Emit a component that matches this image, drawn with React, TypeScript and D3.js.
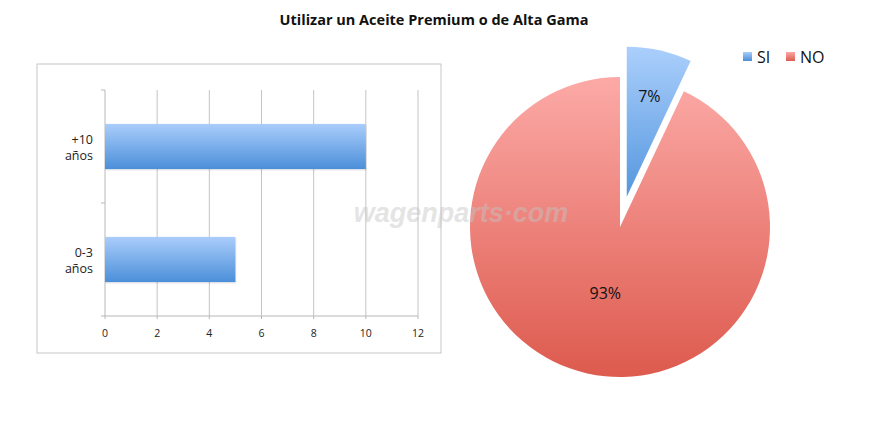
import * as d3 from "d3";

const title = "Utilizar un Aceite Premium o de Alta Gama";

// bar chart
const ageGroups = ["+10 años", "0-3 años"];
const groupValues = [10, 5];
const xTicks = [0, 2, 4, 6, 8, 10, 12];

// pie chart
const answers = ["SI", "NO"];
const shares = [7, 93];

const W = 872;
const H = 421;

export default function App() {
  const x = d3.scaleLinear().domain([0, 12]).range([105, 418]);
  const y = d3.scaleBand().domain(ageGroups).range([90, 316]).paddingInner(0.6).paddingOuter(0.3);
  const bounds = [90, 203, 316];

  const cx = 620;
  const cy = 227;
  const r = 150;
  const pie = d3.pie<number>().sort(null).value((d) => d);
  const arcs = pie(shares);
  const arc = d3.arc<d3.PieArcDatum<number>>().innerRadius(0).outerRadius(r);
  const labelR = [0.69, 0.45];

  const pieFill = ["url(#gSi)", "url(#gNo)"];
  const legendFill = ["url(#gSiL)", "url(#gNoL)"];

  return (
    <svg width={W} height={H} style={{ position: "absolute", left: 0, top: 0 }} fontFamily="'Open Sans', 'Liberation Sans', sans-serif">
      <defs>
        <linearGradient id="gBar" x1="0" y1="0" x2="0" y2="1">
          <stop offset="0" stopColor="#aacdfb" />
          <stop offset="1" stopColor="#4b8fd9" />
        </linearGradient>
        <linearGradient id="gSi" gradientUnits="userSpaceOnUse" x1="0" y1={-r} x2="0" y2={0}>
          <stop offset="0" stopColor="#abcffc" />
          <stop offset="1" stopColor="#5597de" />
        </linearGradient>
        <linearGradient id="gNo" gradientUnits="userSpaceOnUse" x1="0" y1={-r} x2="0" y2={r}>
          <stop offset="0" stopColor="#fcaaa7" />
          <stop offset="1" stopColor="#dd5a4e" />
        </linearGradient>
        <linearGradient id="gSiL" x1="0" y1="0" x2="0" y2="1">
          <stop offset="0" stopColor="#a8ccfa" />
          <stop offset="1" stopColor="#4a8dd8" />
        </linearGradient>
        <linearGradient id="gNoL" x1="0" y1="0" x2="0" y2="1">
          <stop offset="0" stopColor="#fba8a5" />
          <stop offset="1" stopColor="#dc5b50" />
        </linearGradient>
      </defs>

      <text x={434} y={25} textAnchor="middle" fontSize={14.5} fontWeight="bold" fill="#111">
        {title}
      </text>

      {/* bar chart frame */}
      <rect x={37} y={64} width={404} height={289} fill="#fff" stroke="#c6c6c6" strokeWidth={1} />

      {xTicks.map((t) => (
        <g key={t}>
          {t > 0 && <line x1={x(t)} x2={x(t)} y1={90} y2={316} stroke="#c4c4c4" />}
          <line x1={x(t)} x2={x(t)} y1={316} y2={319} stroke="#b8b8b8" />
          <text x={x(t)} y={337} textAnchor="middle" fontSize={10.5} fill="#222">
            {t}
          </text>
        </g>
      ))}
      <line x1={x(0)} x2={x(0)} y1={90} y2={316} stroke="#b8b8b8" />
      <line x1={x(0)} x2={x(12)} y1={316} y2={316} stroke="#b8b8b8" />
      {bounds.map((b) => (
        <line key={b} x1={x(0) - 4} x2={x(0)} y1={b} y2={b} stroke="#b8b8b8" />
      ))}

      {ageGroups.map((g, i) => {
        const [l1, l2] = g.split(" ");
        const yc = (y(g) as number) + y.bandwidth() / 2;
        return (
          <g key={g}>
            <rect x={x(0) + 1} y={(y(g) as number) + 1.5} width={x(groupValues[i]) - x(0)} height={y.bandwidth()} fill="#000" opacity={0.08} />
            <rect x={x(0)} y={y(g)} width={x(groupValues[i]) - x(0)} height={y.bandwidth()} fill="url(#gBar)" />
            <text x={93} y={yc - 3} textAnchor="end" fontSize={12.5} fill="#222">
              {l1}
            </text>
            <text x={93} y={yc + 13} textAnchor="end" fontSize={12.5} fill="#222">
              {l2}
            </text>
          </g>
        );
      })}

      {/* pie */}
      {arcs.map((a, i) => {
        const mid = (a.startAngle + a.endAngle) / 2;
        const off = i === 0 ? 31 : 0;
        const dx = Math.sin(mid) * off;
        const dy = -Math.cos(mid) * off;
        const lr = r * labelR[i];
        const [lx, ly] = d3.arc<d3.PieArcDatum<number>>().innerRadius(lr).outerRadius(lr).centroid(a);
        return (
          <g key={answers[i]} transform={`translate(${cx + dx},${cy + dy})`}>
            <path d={arc(a) ?? ""} fill={pieFill[i]} />
            <text x={lx} y={ly + 6} textAnchor="middle" fontSize={16} fill="#111">
              {shares[i]}%
            </text>
          </g>
        );
      })}

      {/* legend */}
      {answers.map((s, i) => {
        const lx = i === 0 ? 743 : 786;
        return (
          <g key={s}>
            <rect x={lx} y={52} width={9} height={9} fill={legendFill[i]} />
            <text x={lx + 14} y={63} fontSize={16} fill="#111">
              {s}
            </text>
          </g>
        );
      })}

      {/* watermark */}
      <text x={461} y={222} textAnchor="middle" fontSize={27} fontWeight="bold" fontStyle="italic" fontFamily="'Liberation Sans', sans-serif" fill="#c4c4c4" opacity={0.45}>
        wagenparts·com
      </text>
    </svg>
  );
}
